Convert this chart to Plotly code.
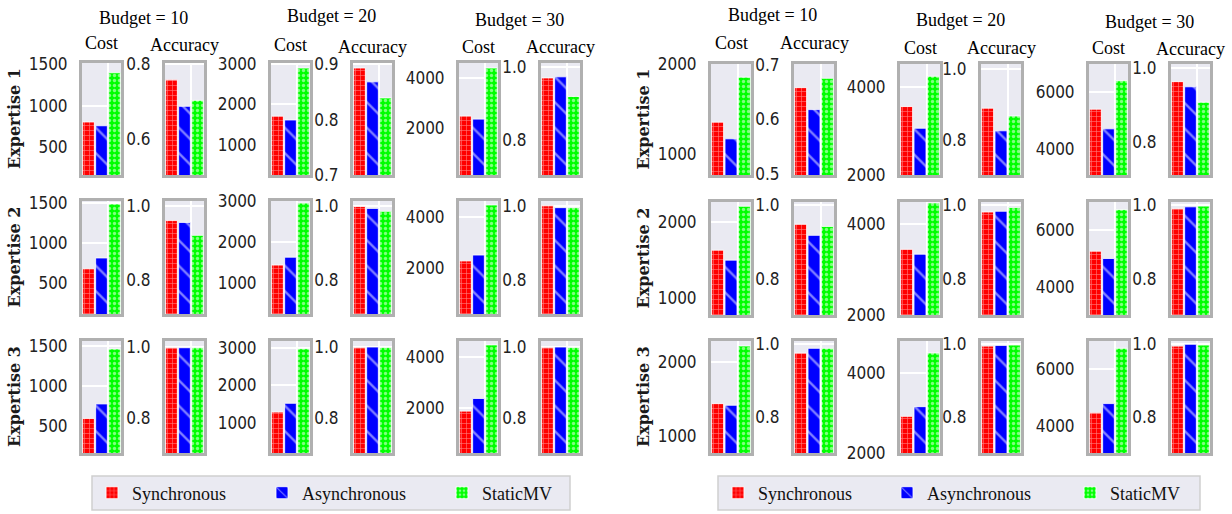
import plotly.graph_objects as go

W, H = 1232, 514

SERIES = ["Synchronous", "Asynchronous", "StaticMV"]
BUDGETS = [10, 20, 30]
EXPERTISE = ["Expertise 1", "Expertise 2", "Expertise 3"]
METRICS = ["Cost", "Accuracy"]

# ---- Left panel values: [expertise row][budget] ----
L_cost_sync = [[805, 1705, 2470], [673, 1434, 2270], [600, 1286, 1887]]
L_cost_async = [[760, 1610, 2350], [809, 1627, 2500], [780, 1520, 2377]]
L_cost_static = [[1395, 2900, 4390], [1488, 2960, 4460], [1463, 2975, 4453]]
L_acc_sync = [[0.758, 0.893, 0.970], [0.960, 0.998, 1.000], [0.997, 0.998, 0.998]]
L_acc_async = [[0.687, 0.868, 0.973], [0.955, 0.993, 0.995], [0.997, 0.999, 0.999]]
L_acc_static = [[0.703, 0.839, 0.919], [0.920, 0.985, 0.995], [0.997, 0.998, 0.998]]

# ---- Right panel values ----
R_cost_sync = [[1359, 3548, 5414], [1630, 3444, 5267], [1444, 2907, 4462]]
R_cost_async = [[1174, 3054, 4724], [1500, 3336, 5012], [1422, 3150, 4786]]
R_cost_static = [[1859, 4237, 6414], [2204, 4470, 6721], [2222, 4494, 6728]]
R_acc_sync = [[0.658, 0.889, 0.963], [0.949, 0.982, 0.991], [0.976, 0.995, 0.995]]
R_acc_async = [[0.618, 0.825, 0.949], [0.919, 0.984, 0.996], [0.989, 0.997, 1.000]]
R_acc_static = [[0.675, 0.867, 0.907], [0.943, 0.994, 0.998], [0.989, 0.998, 0.998]]

# ---- axis ranges / tick steps (layout) ----
L_cost_range = [[(170, 1512), (244, 3025), (118, 4590)],
                [(105, 1525), (229, 3010), (192, 4615)],
                [(171, 1561), (195, 3180), (264, 4604)]]
L_acc_range = [[(0.503, 0.803), (0.700, 0.902), (0.703, 1.011)],
               [(0.707, 1.013)] * 3,
               [(0.700, 1.016)] * 3]
R_cost_range = [[(772, 2005), (1990, 4516), (3103, 7000)],
                [(783, 2260), (1990, 4491), (3035, 6988)],
                [(778, 2289), (1990, 4794), (3052, 6983)]]
R_acc_range = [[(0.499, 0.701), (0.700, 1.014), (0.709, 1.011)],
               [(0.704, 1.009)] * 3,
               [(0.703, 1.009)] * 3]
L_cost_dtick = [500, 1000, 2000]
R_cost_dtick = [1000, 2000, 2000]
L_acc_dtick = [[0.2, 0.1, 0.2], [0.2] * 3, [0.2] * 3]
R_acc_dtick = [[0.1, 0.2, 0.2], [0.2] * 3, [0.2] * 3]

PANELS = {
    "L": dict(
        values={"Cost": [L_cost_sync, L_cost_async, L_cost_static],
                "Accuracy": [L_acc_sync, L_acc_async, L_acc_static]},
        ranges={"Cost": L_cost_range, "Accuracy": L_acc_range},
        dticks={"Cost": [L_cost_dtick] * 3, "Accuracy": L_acc_dtick},
        cols=[(79, 124, 162, 207), (268, 313, 350, 395), (456, 501, 538, 583)],
        rows=[(60, 178), (198, 317), (338, 456)],
        budget_y=[18, 16, 20],
        metric_y=[(43, 45), (45, 47), (47, 47)],
        exp_x=14,
        legend_box=(92, 570),
        legend_text_x=[140, 310, 490],
        legends=["legend", "legend2", "legend3"],
    ),
    "R": dict(
        values={"Cost": [R_cost_sync, R_cost_async, R_cost_static],
                "Accuracy": [R_acc_sync, R_acc_async, R_acc_static]},
        ranges={"Cost": R_cost_range, "Accuracy": R_acc_range},
        dticks={"Cost": [R_cost_dtick] * 3, "Accuracy": R_acc_dtick},
        cols=[(708, 754, 791, 837), (897, 943, 978, 1024), (1086, 1131, 1168, 1213)],
        rows=[(61, 178), (199, 318), (338, 456)],
        budget_y=[15, 20, 22],
        metric_y=[(43, 43), (48, 48), (48, 49)],
        exp_x=643,
        legend_box=(718, 1200),
        legend_text_x=[766, 935, 1118],
        legends=["legend4", "legend5", "legend6"],
    ),
}

COLORS = ["#ff0000", "#0000ff", "#00ff00"]
PATTERNS = [dict(shape="+", size=5, solidity=0.22, fgcolor="white", fillmode="overlay"),
            dict(shape="\\", size=18, solidity=0.13, fgcolor="white", fillmode="overlay"),
            dict(shape=".", size=5, solidity=0.35, fgcolor="white", fillmode="overlay")]

SERIF = "Liberation Serif, Times New Roman, serif"
NARROW = "Liberation Sans Narrow, DejaVu Sans Condensed, Arial Narrow, sans-serif"
LW = 3

fig = go.Figure()
layout = dict(width=W, height=H, margin=dict(l=0, r=0, t=0, b=0, autoexpand=False),
              autosize=False, paper_bgcolor="white", plot_bgcolor="#eaeaf2",
              barmode="overlay", annotations=[], shapes=[], showlegend=True)

k = 0
for pkey, P in PANELS.items():
    for r in range(3):
        y0, y1 = P["rows"][r]
        for b in range(3):
            c = P["cols"][b]
            for mi, m in enumerate(METRICS):
                k += 1
                xa = "xaxis" if k == 1 else f"xaxis{k}"
                ya = "yaxis" if k == 1 else f"yaxis{k}"
                xr = "x" if k == 1 else f"x{k}"
                yr = "y" if k == 1 else f"y{k}"
                bx0, bx1 = (c[0], c[1]) if mi == 0 else (c[2], c[3])
                layout[xa] = dict(
                    domain=[(bx0 + LW) / W, (bx1 - LW) / W], anchor=yr,
                    type="category", categoryorder="array", categoryarray=SERIES,
                    range=[-0.5, 2.5], tickson="boundaries", showticklabels=False,
                    ticks="", showgrid=True, gridcolor="white", gridwidth=1.5,
                    showline=True, linecolor="#b0b0b0", linewidth=LW, mirror=True,
                    zeroline=False, fixedrange=True)
                lo, hi = P["ranges"][m][r][b]
                dt = P["dticks"][m][r][b]
                layout[ya] = dict(
                    domain=[1 - (y1 - LW) / H, 1 - (y0 + LW) / H], anchor=xr,
                    range=[lo, hi], dtick=dt, tick0=0,
                    tickformat="d" if m == "Cost" else ".1f",
                    ticks="", ticklabelstandoff=8,
                    tickfont=dict(family=NARROW, size=17, color="#222222"),
                    showgrid=True, gridcolor="white", gridwidth=1.5,
                    showline=True, linecolor="#b0b0b0", linewidth=LW, mirror=True,
                    zeroline=False, fixedrange=True)
                vals = P["values"][m]
                for s in range(3):
                    fig.add_trace(go.Bar(
                        x=[SERIES[s]], y=[vals[s][r][b]], base=0, width=0.9,
                        xaxis=xr, yaxis=yr, name=SERIES[s],
                        marker=dict(color=COLORS[s], pattern=PATTERNS[s],
                                    line=dict(color="white", width=0.8)),
                        legend=P["legends"][s],
                        showlegend=(r == 0 and b == 0 and mi == 0),
                        cliponaxis=True, hoverinfo="skip"))
                if r == 0:
                    layout["annotations"].append(dict(
                        text=m, x=((bx0 + bx1) / 2) / W, y=1 - P["metric_y"][b][mi] / H,
                        xref="paper", yref="paper", showarrow=False,
                        xanchor="center", yanchor="middle",
                        font=dict(family=SERIF, size=18, color="black")))
            if r == 0:
                layout["annotations"].append(dict(
                    text=f"Budget = {BUDGETS[b]}", x=((c[0] + c[3]) / 2) / W,
                    y=1 - P["budget_y"][b] / H, xref="paper", yref="paper",
                    showarrow=False, xanchor="center", yanchor="middle",
                    font=dict(family=SERIF, size=18, color="black")))
        layout["annotations"].append(dict(
            text=EXPERTISE[r], x=P["exp_x"] / W, y=1 - ((y0 + y1) / 2) / H,
            xref="paper", yref="paper", showarrow=False, textangle=-90,
            xanchor="center", yanchor="middle",
            font=dict(family="DejaVu Serif, serif", size=16, color="#1a1a1a",
                      weight="bold")))

    # legend frame
    lx0, lx1 = P["legend_box"]
    layout["shapes"].append(dict(
        type="rect", xref="paper", yref="paper", x0=lx0 / W, x1=lx1 / W,
        y0=1 - 510 / H, y1=1 - 476 / H, fillcolor="#eaeaf2",
        line=dict(color="#cfcfcf", width=1.5), layer="below"))
    for s in range(3):
        layout[P["legends"][s]] = dict(
            orientation="h", xref="paper", yref="paper", xanchor="left",
            yanchor="middle", x=(P["legend_text_x"][s] - 48) / W, y=1 - 493 / H,
            bgcolor="rgba(0,0,0,0)", borderwidth=0,
            font=dict(family=SERIF, size=18, color="#111111"))

fig.update_layout(**layout)
fig.write_html("out.html", config={"displayModeBar": False},
               post_script="document.body.style.margin='0';document.body.style.padding='0';")
